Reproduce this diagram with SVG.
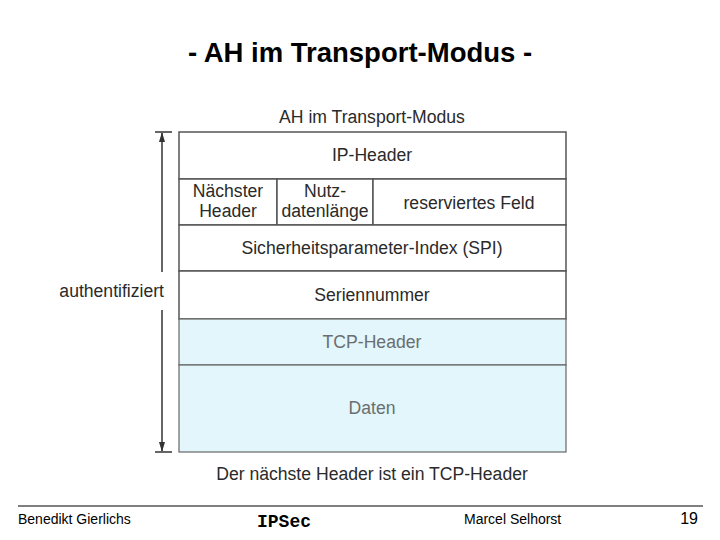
<svg xmlns="http://www.w3.org/2000/svg" width="720" height="540" viewBox="0 0 720 540">
<style>
.t{font-family:"Liberation Sans",Arial,sans-serif;fill:#2a2a2a;font-size:17.6px;text-anchor:middle}
.g{fill:#6a6e70}
.box{fill:#fff;stroke:#555;stroke-width:1.5}
.cy{fill:#e2f6fb;stroke:#666;stroke-width:1.2}
.ln{stroke:#333;stroke-width:1.5;fill:none}
.f{font-family:"Liberation Sans",Arial,sans-serif;font-size:14px;fill:#000}
</style>
<defs>
<marker id="ah" viewBox="0 0 10 10" refX="9" refY="5" markerWidth="7" markerHeight="7" orient="auto"><path d="M0,2 L10,5 L0,8 z" fill="#333"/></marker>
</defs>
<rect width="720" height="540" fill="#fff"/>
<text x="360" y="62" font-family="Liberation Sans,Arial,sans-serif" font-size="27.5" font-weight="bold" text-anchor="middle" fill="#000">- AH im Transport-Modus -</text>
<text class="t" x="372" y="123">AH im Transport-Modus</text>
<g id="ip"><rect class="box" x="179" y="132" width="387" height="47"/><text class="t" x="372" y="161">IP-Header</text></g>
<g id="next"><rect class="box" x="179" y="179" width="98" height="46"/><text class="t" x="228" y="197">Nächster</text><text class="t" x="228" y="217">Header</text></g>
<g id="len"><rect class="box" x="277" y="179" width="96" height="46"/><text class="t" x="325" y="197">Nutz-</text><text class="t" x="325" y="217">datenlänge</text></g>
<g id="res"><rect class="box" x="373" y="179" width="193" height="46"/><text class="t" x="469" y="209">reserviertes Feld</text></g>
<g id="spi"><rect class="box" x="179" y="225" width="387" height="46"/><text class="t" x="372" y="254">Sicherheitsparameter-Index (SPI)</text></g>
<g id="seq"><rect class="box" x="179" y="271" width="387" height="48"/><text class="t" x="372" y="301">Seriennummer</text></g>
<g id="tcp"><rect class="cy" x="179" y="319" width="387" height="46"/><text class="t g" x="372" y="348">TCP-Header</text></g>
<g id="data"><rect class="cy" x="179" y="365" width="387" height="87"/><text class="t g" x="372" y="414">Daten</text></g>
<text class="t" x="372" y="480">Der nächste Header ist ein TCP-Header</text>
<g id="connectors">
<line class="ln" x1="155" y1="132" x2="172" y2="132"/>
<line class="ln" x1="155" y1="452" x2="172" y2="452"/>
<line class="ln" x1="162" y1="272" x2="162" y2="133" marker-end="url(#ah)"/>
<line class="ln" x1="162" y1="310" x2="162" y2="451" marker-end="url(#ah)"/>
</g>
<text class="t" x="164" y="297" style="text-anchor:end">authentifiziert</text>
<line x1="18" y1="506" x2="703" y2="506" stroke="#000" stroke-width="1"/>
<text class="f" x="18" y="524">Benedikt Gierlichs</text>
<text x="284" y="527" font-family="Liberation Mono,Courier New,monospace" font-size="18" font-weight="bold" text-anchor="middle">IPSec</text>
<text class="f" x="464" y="524">Marcel Selhorst</text>
<text x="698" y="524" font-family="Liberation Sans,Arial,sans-serif" font-size="16" text-anchor="end">19</text>
</svg>
